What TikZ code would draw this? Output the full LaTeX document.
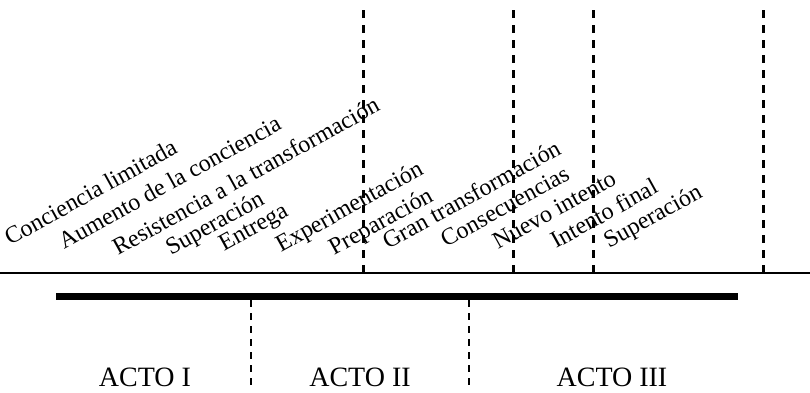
\documentclass[tikz,border=0pt]{standalone}
\usepackage{fontspec}
\setmainfont{Liberation Serif}
\begin{document}
\begin{tikzpicture}[x=1pt,y=-1pt,
  lab/.style={anchor=base west, rotate=29, inner sep=0pt, font=\fontsize{24}{26}\selectfont},
  acto/.style={anchor=base, inner sep=0pt, font=\fontsize{28}{30}\selectfont},
  updash/.style={line width=3pt, dash pattern=on 8pt off 7pt},
  lodash/.style={line width=2.2pt, dash pattern=on 7pt off 6pt}]
\path[use as bounding box] (0,0) rectangle (810,392);
% axis and bar
\coordinate (axL) at (0,273);
\coordinate (axR) at (810,273);
\draw[line width=2pt] (axL) -- (axR);
\coordinate (barL) at (56,296);
\coordinate (barR) at (738,296);
\draw[line width=7pt] (barL) -- (barR);
% upper dashed lines
\foreach \n/\x in {a/363,b/513,c/593,d/763}{
  \coordinate (t\n) at (\x,10);
  \coordinate (b\n) at (\x,273);
  \draw[updash] (t\n) -- (b\n);
}
% lower dashed lines
\foreach \n/\x in {p/251,q/469}{
  \coordinate (lt\n) at (\x,300);
  \coordinate (lb\n) at (\x,388);
  \draw[lodash] (lt\n) -- (lb\n);
}
% slanted labels
\node[lab] (l1) at (10,246) {Conciencia limitada};
\node[lab] (l2) at (64,250) {Aumento de la conciencia};
\node[lab] (l3) at (118,256) {Resistencia a la transformación};
\node[lab] (l4) at (171,256) {Superación};
\node[lab] (l5) at (224,252) {Entrega};
\node[lab] (l6) at (281,253) {Experimentación};
\node[lab] (l7) at (334,256) {Preparación};
\node[lab] (l8) at (388,250) {Gran transformación};
\node[lab] (l9) at (446,248) {Consecuencias};
\node[lab] (l10) at (498,250) {Nuevo intento};
\node[lab] (l11) at (556,249) {Intento final};
\node[lab] (l12) at (609,249) {Superación};
% acts
\node[acto] (a1) at (145,386) {ACTO I};
\node[acto] (a2) at (360,386) {ACTO II};
\node[acto] (a3) at (612,386) {ACTO III};
\end{tikzpicture}
\end{document}
